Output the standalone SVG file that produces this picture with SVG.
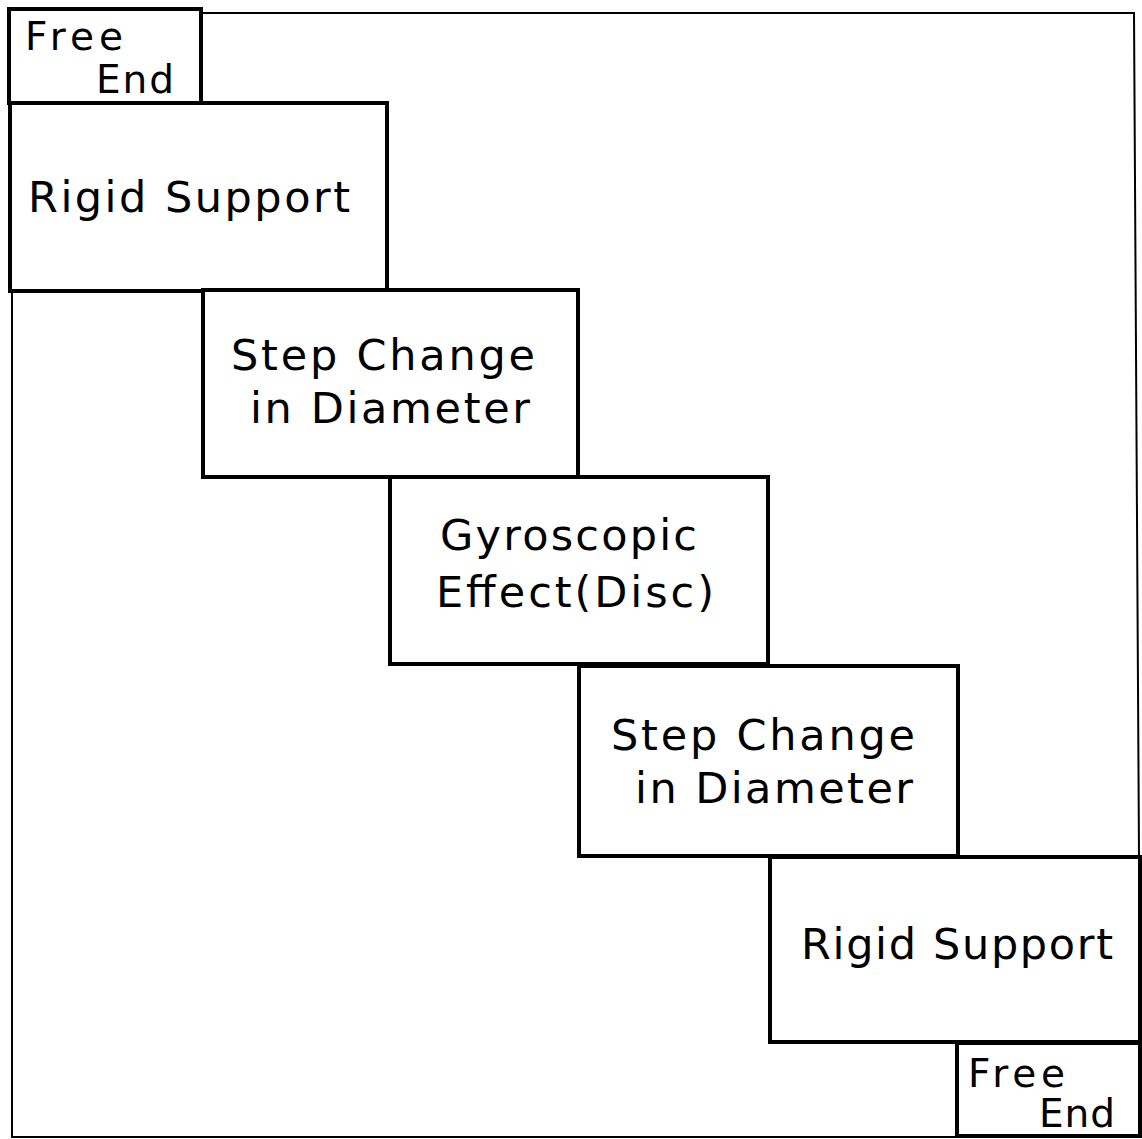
<svg xmlns="http://www.w3.org/2000/svg" width="1142" height="1139" viewBox="0 0 1142 1139">
<style>
.box{fill:#fff;stroke:#000;stroke-width:4}
.frame{fill:none;stroke:#000;stroke-width:2}
.t{font-family:"DejaVu Sans","Open Sans",sans-serif;font-size:43px;fill:#000}
.s{font-family:"DejaVu Sans","Open Sans",sans-serif;font-size:39px;fill:#000}
</style>
<rect width="1142" height="1139" fill="#fff"/>
<g id="frame">
<polyline class="frame" points="201,13 1134,13 1139,856"/>
<polyline class="frame" points="12,292 12,1137 957,1137"/>
</g>
<g id="connectors"></g>
<g id="free-end-1">
<rect class="box" x="9" y="9" width="192" height="94"/>
<text class="s" x="25" y="50" textLength="98" lengthAdjust="spacing">Free</text>
<text class="s" x="96" y="93" textLength="78" lengthAdjust="spacing">End</text>
</g>
<g id="rigid-support-1">
<rect class="box" x="10" y="103" width="377" height="188"/>
<text class="t" x="28" y="212" textLength="322" lengthAdjust="spacing">Rigid Support</text>
</g>
<g id="step-change-1">
<rect class="box" x="203" y="290" width="375" height="187"/>
<text class="t" x="231" y="370" textLength="304" lengthAdjust="spacing">Step Change</text>
<text class="t" x="250" y="423" textLength="280" lengthAdjust="spacing">in Diameter</text>
</g>
<g id="gyroscopic">
<rect class="box" x="390" y="477" width="378" height="187"/>
<text class="t" x="440" y="550" textLength="257" lengthAdjust="spacing">Gyroscopic</text>
<text class="t" x="436" y="607" textLength="278" lengthAdjust="spacing">Effect(Disc)</text>
</g>
<g id="step-change-2">
<rect class="box" x="579" y="666" width="379" height="190"/>
<text class="t" x="611" y="750" textLength="304" lengthAdjust="spacing">Step Change</text>
<text class="t" x="635" y="803" textLength="278" lengthAdjust="spacing">in Diameter</text>
</g>
<g id="rigid-support-2">
<rect class="box" x="770" y="857" width="370" height="185"/>
<text class="t" x="801" y="959" textLength="312" lengthAdjust="spacing">Rigid Support</text>
</g>
<g id="free-end-2">
<rect class="box" x="957" y="1043" width="183" height="93"/>
<text class="s" x="968" y="1087" textLength="97" lengthAdjust="spacing">Free</text>
<text class="s" x="1039" y="1127" textLength="76" lengthAdjust="spacing">End</text>
</g>
</svg>
